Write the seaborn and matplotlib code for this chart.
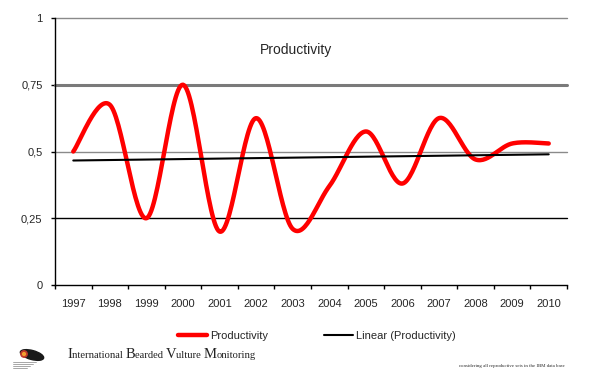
import numpy as np
import pandas as pd
import matplotlib
matplotlib.use('Agg')
import matplotlib.pyplot as plt
from matplotlib.lines import Line2D
from matplotlib.patches import Ellipse, Circle
import seaborn as sns

# data
years = ['1997', '1998', '1999', '2000', '2001', '2002', '2003',
         '2004', '2005', '2006', '2007', '2008', '2009', '2010']
productivity = [0.50, 0.675, 0.25, 0.75, 0.20, 0.625, 0.21,
                0.37, 0.575, 0.38, 0.625, 0.47, 0.53, 0.53]
y_ticks = [0, 0.25, 0.5, 0.75, 1]
y_tick_labels = ['0', '0,25', '0,5', '0,75', '1']

sns.set_theme(style='white')
plt.rcParams['font.family'] = ['Liberation Sans', 'DejaVu Sans']


def smooth(xs, ys, n=30):
    # Excel style smoothed line (Catmull-Rom through the points)
    p = np.column_stack([xs, ys]).astype(float)
    p = np.vstack([p[0], p, p[-1]])
    out = []
    for i in range(1, len(p) - 2):
        p0, p1, p2, p3 = p[i - 1], p[i], p[i + 1], p[i + 2]
        t = np.linspace(0, 1, n, endpoint=False)[:, None]
        seg = 0.5 * ((2 * p1) + (-p0 + p2) * t + (2 * p0 - 5 * p1 + 4 * p2 - p3) * t ** 2
                     + (-p0 + 3 * p1 - 3 * p2 + p3) * t ** 3)
        out.append(seg)
    out.append(p[-2][None, :])
    out = np.vstack(out)
    return out[:, 0], out[:, 1]


idx = np.arange(len(years))
sx, sy = smooth(idx, productivity)
curve = pd.DataFrame({'x': sx, 'y': sy})

slope, intercept = np.polyfit(idx, productivity, 1)
trend = pd.DataFrame({'x': [idx[0], idx[-1]],
                      'y': [intercept + slope * idx[0], intercept + slope * idx[-1]]})

fig = plt.figure(figsize=(5.89, 3.76), dpi=100)
ax = fig.add_axes([55 / 589, 91 / 376, 512 / 589, 267 / 376])

# horizontal gridlines, each drawn a bit differently like the original
grid_style = {0.25: ('black', 1.0), 0.5: ('#8a8a8a', 1.0), 0.75: ('#7a7a7a', 2.2), 1: ('#8a8a8a', 1.0)}
for yv, (c, w) in grid_style.items():
    ax.axhline(yv, color=c, lw=w, zorder=1, clip_on=False)

sns.lineplot(data=curve, x='x', y='y', color='#ff0000', lw=3.2, sort=False,
             estimator=None, ax=ax, zorder=3)
sns.lineplot(data=trend, x='x', y='y', color='black', lw=1.5, sort=False,
             estimator=None, ax=ax, zorder=4)

ax.set_xlim(-0.5, len(years) - 0.5)
ax.set_ylim(0, 1)
ax.set_xlabel('')
ax.set_ylabel('')

ax.set_xticks(np.arange(-0.5, len(years), 1.0))
ax.set_xticklabels([])
ax.set_xticks(idx, minor=True)
ax.set_xticklabels(years, minor=True, fontsize=8)
ax.tick_params(axis='x', which='major', direction='out', length=3, width=1, color='black', bottom=True)
ax.tick_params(axis='x', which='minor', length=0, pad=10, bottom=True)

ax.set_yticks(y_ticks)
ax.set_yticklabels(y_tick_labels, fontsize=8)
ax.tick_params(axis='y', direction='out', length=3, width=1, color='black', left=True, pad=6)

for s in ['top', 'right']:
    ax.spines[s].set_visible(False)
for s in ['left', 'bottom']:
    ax.spines[s].set_color('black')
    ax.spines[s].set_linewidth(1)
    ax.spines[s].set_zorder(5)

ax.text((296 - 55) / 512, (285 - 50) / 267, 'Productivity', transform=ax.transAxes,
        ha='center', va='center', fontsize=10)

handles = [Line2D([], [], color='#ff0000', lw=3.2),
           Line2D([], [], color='black', lw=1.5)]
fig.legend(handles, ['Productivity', 'Linear (Productivity)'], loc='center',
           bbox_to_anchor=(317 / 589, 1 - 336 / 376), ncol=2, frameon=False,
           handlelength=2.6, columnspacing=5.0, handletextpad=0.3, fontsize=8)

# logo
lax = fig.add_axes([8 / 589, 4 / 376, 40 / 589, 26 / 376])
lax.set_xlim(0, 40)
lax.set_ylim(0, 26)
lax.axis('off')
lax.add_patch(Ellipse((24, 17), 24, 9, angle=-15, color='#1a1a1a'))
lax.add_patch(Circle((16, 18), 3.2, color='#c0392b'))
lax.add_patch(Circle((16, 18), 1.4, color='#f0a030'))
for k, yy in enumerate([10, 8, 6, 4]):
    lax.plot([5, 28 - 3 * k], [yy, yy], color='#999999', lw=0.6)

# footer title with enlarged initials
pieces = [('I', 10.5), ('nternational ', 7.6), ('B', 10.5), ('earded ', 7.6),
          ('V', 10.5), ('ulture ', 7.6), ('M', 10.5), ('onitoring', 7.6)]
fig.canvas.draw()
renderer = fig.canvas.get_renderer()
xpos = 67
for txt, size in pieces:
    t = fig.text(xpos / 589, 1 - 358 / 376, txt, fontsize=size, va='baseline', ha='left',
                 family=['Liberation Serif', 'DejaVu Serif'], color='#222222')
    bb = t.get_window_extent(renderer=renderer)
    xpos += bb.width

fig.text(565 / 589, 1 - 367 / 376, 'considering all reproductive sets in the IBM data base',
         fontsize=3.5, ha='right', va='baseline', family=['Liberation Serif', 'DejaVu Serif'])

fig.savefig('out.png', dpi=100)
